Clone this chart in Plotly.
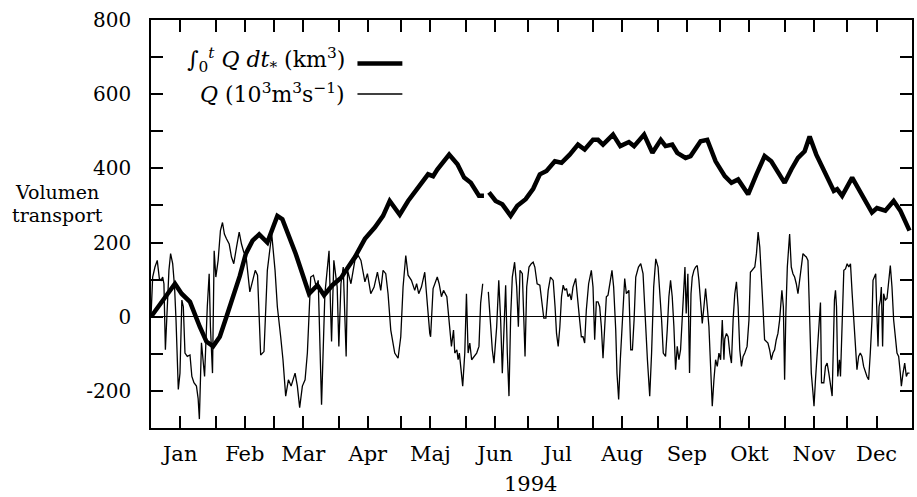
import plotly.graph_objects as go

# ---------------- data (day of year 1994, values) ----------------
cum_days = [0, 5.9, 11.5, 14.7, 18.7, 23.4, 26.6, 29.8, 33, 36.2, 39.4, 42.6, 45.5, 48.7, 51.9, 55.8,
            60.6, 63, 69.4, 75.8, 79.8, 83, 87, 91.2, 94.6, 97.8, 102.6, 107.4, 111.3, 114.5, 119.3,
            123.3, 128.1, 132.9, 135.3, 137.3, 143, 147, 150.2, 153.4, 157.3, 159.7, None,
            162.1, 165.3, 168.5, 172.5, 175.7, 179.7, 183.3, 186.5, 189.7, 193.7, 196.9, 200.8,
            204.8, 208, 212, 214.4, 216.8, 221.6, 225.1, 229.2, 231.7, 236.5, 240.5, 244.5, 246.8,
            250, 252.4, 256.4, 258.8, 263.6, 266.8, 270.8, 275.2, 278.4, 281.6, 286.4, 290.4,
            294.3, 297.5, 300.7, 303.9, 307.1, 310.3, 313.5, 315.9, 319.1, 321.1, 325.1, 327.5,
            329.1, 331.5, 336.3, 341, 345.8, 348.2, 352.2, 356.2, 359.4, 363.8]
cum_vals = [0, 45, 89, 62, 40, -27, -67, -80, -54, 0, 55, 110, 170, 205, 222, 200,
            272, 263, 170, 62, 85, 58, 85, 105, 134, 161, 210, 241, 272, 312, 275,
            312, 348, 384, 379, 397, 437, 411, 375, 361, 326, 326, None,
            335, 312, 303, 272, 299, 317, 345, 384, 393, 419, 415, 437,
            464, 451, 477, 477, 464, 491, 460, 471, 460, 491, 442, 477, 460,
            464, 442, 428, 433, 473, 477, 419, 379, 361, 370, 330, 384,
            433, 419, 388, 361, 397, 428, 446, 486, 437, 413, 366, 339,
            344, 326, 375, 330, 281, 293, 286, 312, 286, 232]

q_days = [0, 0.8, 1.9, 3.0, 4.0, 4.8, 5.6, 6.2, 6.9, 7.8, 8.6, 9.4, 10.4, 11.3, 12.0, 13.1, 13.9,
          14.8, 15.5, 16.3, 17.4, 18.7, 19.6, 20.6, 21.8, 22.6, 23.2, 24.2, 25.0, 25.7, 27.0, 27.9,
          28.5, 29.5, 30.3, 31.1, 32.2, 33.3, 34.3, 35.2, 36.2, 37.5, 38.6, 39.7, 41.0, 42.3, 43.4,
          44.5, 45.5, 47.4, 50.0, 51.1, 52.6, 54.2, 55.8, 57.9, 59.5, 60.6, 62.2, 63.3, 64.6, 65.9,
          67.2, 69.1, 70.2, 71.3, 72.6, 73.9, 75.0, 76.6, 77.9, 79.3, 80.2, 81.8, 83.4, 85.4, 86.1,
          86.6, 87.7, 89.3, 90.1, 91.1, 92.2, 93.6, 94.3, 95.9, 97.8, 99.4, 100.7, 101.8, 102.6,
          103.8, 105.4, 107.0, 108.6, 110.2, 111.3, 112.6, 113.7, 115.0, 116.9, 118.5, 119.8,
          120.9, 122.2, 123.3, 124.9, 126.5, 127.4, 128.4, 129.7, 131.3, 132.5, 133.7, 134.1,
          135.3, 137.3, 138.2, 139.3, 140.3, 141.9, 143.0, 144.1, 145.1, 145.7, 146.7, 147.3,
          147.9, 148.9, 149.5, 150.5, 151.3, 152.1, 152.9, 153.8, 155.0, 156.2, 157.3, 158.1,
          159.1, None,
          161.8, 162.9, 163.7, 164.5, 165.8, 166.8, 167.7, 168.5, 169.3, 170.1, 170.9, 171.7,
          172.5, 173.3, 174.4, 175.4, 176.2, 177.0, 178.1, 178.9, 179.4, 180.2, 181.3, 182.4,
          183.3, 184.1, 185.2, 186.5, 187.8, 188.4, 189.4, 190.5, 191.6, 192.9, 193.8, 194.5,
          195.3, 196.1, 196.9, 197.7, 198.5, 199.3, 200.0, 200.8, 201.6, 202.4, 203.7, 204.5,
          205.6, 206.4, 207.2, 208.0, 208.8, 209.9, 211.2, 212.0, 212.8, 213.6, 214.4, 215.2,
          216.0, 216.8, 217.6, 218.4, 219.2, 220.0, 221.1, 221.9, 222.9, 223.5, 224.3, 225.1,
          226.1, 227.2, 228.0, 229.2, 230.1, 230.9, 231.7, 232.5, 233.8, 234.9, 236.0, 237.0,
          238.1, 239.2, 240.1, 241.1, 242.1, 243.2, 244.1, 244.9, 245.7, 246.8, 247.6, 248.4,
          249.2, 250.0, 250.8, 251.6, 252.4, 253.2, 254.0, 254.8, 255.6, 256.1, 256.7, 257.5,
          258.3, 259.0, 259.6, 260.4, 261.2, 262.0, 262.8, 263.6, 264.4, 265.2, 266.0, 266.8,
          267.6, 268.4, 269.2, 270.0, 270.8, 271.6, 272.4, 273.2, 274.0, 274.8, 275.2, 276.0,
          276.8, 277.6, 278.4, 279.2, 280.0, 280.8, 281.6, 282.4, 283.2, 284.0, 284.8, 285.9,
          286.8, 287.5, 288.8, 289.6, 290.4, 291.2, 292.0, 292.7, 293.5, 294.3, 295.1, 295.9,
          296.7, 297.5, 298.3, 299.1, 299.9, 300.7, 301.5, 302.0, 302.6, 303.3, 303.9, 304.5,
          305.2, 306.3, 307.1, 307.9, 308.7, 309.5, 310.3, 311.1, 311.9, 312.7, 313.5, 314.3,
          315.1, 315.9, 316.7, 317.5, 318.0, 318.7, 319.5, 320.3, 321.1, 321.6, 322.7, 323.5,
          324.3, 325.1, 325.9, 326.7, 327.2, 327.8, 328.3, 328.8, 329.4, 330.2, 330.7, 331.5,
          332.3, 333.1, 333.9, 334.7, 335.5, 336.3, 337.1, 337.9, 338.6, 339.4, 340.2, 341.0,
          341.8, 343.4, 344.2, 345.0, 345.8, 346.3, 346.9, 347.6, 348.2, 348.7, 349.2, 349.8,
          350.3, 350.9, 351.4, 352.2, 353.0, 353.8, 354.6, 355.4, 356.2, 357.8, 358.6, 359.4,
          359.9, 360.7, 361.5, 362.3, 362.9, 363.8]
q_vals = [0, 107, 134, 152, 103, 98, 107, 89, -89, 27, 125, 170, 143, 80, -9, -196, -152,
          45, 27, -98, -107, -103, -161, -178, -187, -220, -276, -70, -110, -161, 27, 116,
          -27, -152, 178, 107, 152, 232, 254, 223, 210, 196, 161, 143, 187, 228, 196,
          174, 168, 67, 125, 112, -103, -94, 125, 223, 125, 27, -54, -116, -214, -170,
          -187, -152, -187, -245, -187, -170, -98, 107, 112, 80, 98, -237, 62, 178, 27,
          -67, 152, 80, -80, 89, 134, -107, 125, 89, 152, 165, 152, 116, 94,
          116, 62, 80, 120, 71, 125, 116, 62, -36, -98, -112, -54,
          80, 165, 112, 98, 71, 89, 62, 80, 120, 27, -45, -54,
          76, 107, 89, 54, 71, 54, -9, -80, -36, -98, -89, -116,
          -98, -152, -187, -98, 62, -98, -71, -116, -107, -98, -80, 36,
          89, None,
          67, -27, -89, -125, -27, 98, -9, -152, -27, 85, -98, -214,
          0, 107, 147, 80, -27, 125, 116, 9, -107, 80, 134, 143,
          147, 134, 89, 85, 27, -4, -4, 71, 107, 98, 27, -45,
          -80, -27, 54, 85, 71, 76, 54, 62, 45, 80, 103, 62,
          -9, -54, -54, -71, 18, 89, 125, 80, -62, 40, 40, 27,
          -27, -112, -27, 54, 58, 89, 125, 80, -36, -152, -223, -116,
          9, 103, 62, 71, -89, -89, -9, 107, 134, 143, 116, -9,
          -116, -214, -98, 80, 156, 134, 62, -9, -98, -107, -36, 54,
          98, 54, -27, -143, -80, -116, -89, -9, 71, 134, 9, 116,
          -152, 62, 107, 125, 134, 138, 98, 27, -18, 27, 76, 27,
          -27, -134, -241, -170, -116, -134, -98, -116, -9, -116, -60, -45,
          -54, -98, -125, -9, 62, 94, 27, -89, -134, -107, -98, -80,
          -9, 120, 129, 134, 170, 228, 187, 125, 27, -62, -67, -71,
          -89, -116, -98, -89, -62, -45, -9, 45, 71, 27, -170, 9,
          134, 223, 134, 116, 107, 89, 62, 98, 134, 170, 165, 161,
          152, -9, -152, -205, -241, -170, -98, -27, 38, -178, -178, -134,
          -125, -152, -187, -214, -98, 45, 71, 27, -161, -116, -161, -9,
          125, 129, 143, 134, 143, 62, -9, -98, -143, -107, -98, -107,
          -134, -161, -170, -98, -9, 98, 107, 116, 0, -80, 27, 45,
          80, -80, 62, 45, 49, 89, 138, 80, -9, -98, -107, -152,
          -187, -152, -125, -161, -152, -152]

month_names = ["Jan", "Feb", "Mar", "Apr", "Maj", "Jun", "Jul", "Aug", "Sep", "Okt", "Nov", "Dec"]
month_starts = [0, 31, 59, 90, 120, 151, 181, 212, 243, 273, 304, 334, 365]
mid_month = [14, 45, 73, 104, 134, 165, 195, 226, 257, 287, 318, 348]
y_major_vals = [-200, 0, 200, 400, 600, 800]
y_major_text = ["-200", "0", "200", "400", "600", "800"]
y_minor_vals = [-300, -100, 100, 300, 500, 700]

FONT = "DejaVu Serif"
TICK = dict(ticks="inside", ticklen=12, tickwidth=1.5, tickcolor="black")

fig = go.Figure()
fig.add_trace(go.Scatter(x=q_days, y=q_vals, mode="lines",
                         line=dict(color="black", width=1.3), connectgaps=False,
                         showlegend=False, name="Q"))
fig.add_trace(go.Scatter(x=cum_days, y=cum_vals, mode="lines",
                         line=dict(color="black", width=4.5), connectgaps=False,
                         showlegend=False, name="int Q dt"))

fig.update_layout(
    width=917, height=497, autosize=False,
    margin=dict(l=151, r=3, t=20, b=69, pad=0),
    paper_bgcolor="white", plot_bgcolor="white",
    font=dict(family=FONT, size=21, color="black"),
    xaxis=dict(range=[0, 365], showgrid=False, zeroline=False,
               showline=True, linecolor="black", linewidth=1.5, mirror="ticks",
               tickmode="array", tickvals=mid_month, ticktext=month_names,
               minor=dict(tickmode="array", tickvals=month_starts, showgrid=False, **TICK),
               tickfont=dict(family=FONT, size=21, color="black"),
               ticklabelstandoff=6, **TICK),
    yaxis=dict(range=[-300, 800], showgrid=False, zeroline=True,
               zerolinecolor="black", zerolinewidth=1.3,
               showline=True, linecolor="black", linewidth=1.5, mirror="ticks",
               tickmode="array", tickvals=y_major_vals, ticktext=y_major_text,
               minor=dict(tickmode="array", tickvals=y_minor_vals, showgrid=False, **TICK),
               tickfont=dict(family=FONT, size=20, color="black"),
               ticklabelstandoff=14, **TICK),
)

# legend (text on the left, line sample on the right, as in the original)
fig.add_annotation(xref="paper", yref="paper", x=0.257, y=0.902, xanchor="right", yanchor="middle",
                   text="∫<sub>0</sub><sup><i>t</i></sup> <i>Q dt</i><sub>*</sub> (km<sup>3</sup>)",
                   showarrow=False, font=dict(family=FONT, size=22, color="black"))
fig.add_annotation(xref="paper", yref="paper", x=0.257, y=0.821, xanchor="right", yanchor="middle",
                   text="<i>Q</i> (10<sup>3</sup>m<sup>3</sup>s<sup>−1</sup>)",
                   showarrow=False, font=dict(family=FONT, size=22, color="black"))
fig.add_shape(type="line", xref="paper", yref="paper", x0=0.2713, x1=0.3303, y0=0.8934, y1=0.8934,
              line=dict(color="black", width=4.5))
fig.add_shape(type="line", xref="paper", yref="paper", x0=0.2713, x1=0.3303, y0=0.8186, y1=0.8186,
              line=dict(color="black", width=1.3))

# y-axis title
fig.add_annotation(xref="paper", yref="paper", x=-0.1232, y=0.578, xanchor="center", yanchor="middle",
                   text="Volumen", showarrow=False, font=dict(family=FONT, size=19, color="black"))
fig.add_annotation(xref="paper", yref="paper", x=-0.1232, y=0.522, xanchor="center", yanchor="middle",
                   text="transport", showarrow=False, font=dict(family=FONT, size=19, color="black"))
# year label
fig.add_annotation(xref="paper", yref="paper", x=0.4993, y=-0.137, xanchor="center", yanchor="middle",
                   text="1994", showarrow=False, font=dict(family=FONT, size=21, color="black"))

fig.write_html("out.html")
